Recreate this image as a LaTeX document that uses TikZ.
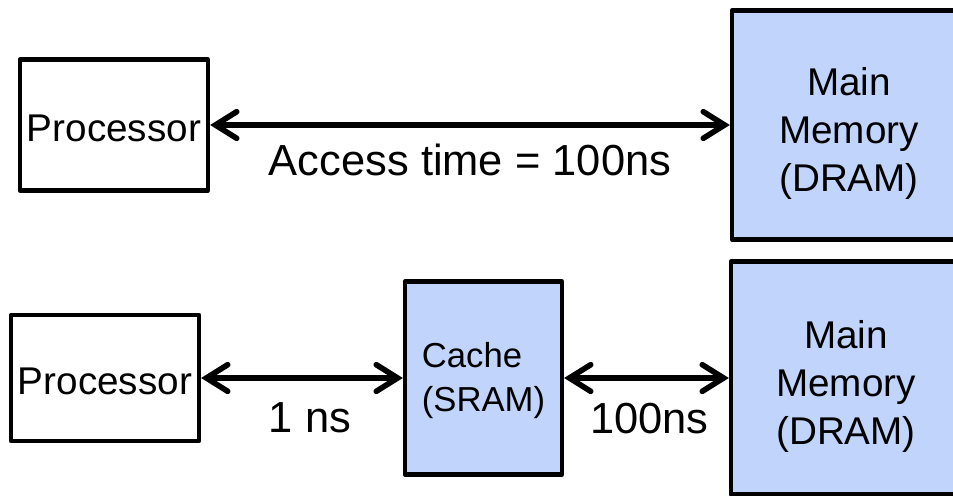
\documentclass[tikz,border=0pt]{standalone}
\usepackage{fontspec}
\setmainfont{Liberation Sans}
\usetikzlibrary{arrows.meta}

\definecolor{memblue}{RGB}{193,212,252}

\begin{document}
\begin{tikzpicture}[
    x = 0.75pt, y = -0.75pt,
    line join=round,
    plainbox/.style = {draw, line width=3.2pt, inner sep=0pt, align=center, font=\fontsize{29}{36}\selectfont},
    membox/.style = {plainbox, fill=memblue},
    link/.style = {line width=4.2pt, line cap=round, {Straight Barb[length=16pt, width=20pt, line cap=round]}-{Straight Barb[length=16pt, width=20pt, line cap=round]}},
    lbl/.style = {anchor=base, inner sep=0pt, font=\fontsize{32.6}{38}\selectfont}
]

\useasboundingbox (0, 0) rectangle (953, 496);
\clip (0, 0) rectangle (953, 496);

% without cache
\node[plainbox, minimum width=141pt, minimum height=98.25pt, text height=25pt] (proc1) at (114, 125) {Processor};
\node[membox, minimum width=175.5pt, minimum height=171.75pt, text height=106pt] (mem1) at (849, 125) {Main\\Memory\\(DRAM)};

\draw[link] (proc1) -- (mem1);
\node[lbl] (acc) at (470, 175) {Access time = 100ns};

% with cache
\node[plainbox, minimum width=141pt, minimum height=94.5pt, text height=25pt] (proc2) at (105, 378) {Processor};
\node[membox, minimum width=117.75pt, minimum height=144.75pt, text height=56pt, align=left, font=\fontsize{26}{33}\selectfont] (cache) at (483.5, 378) {Cache\\(SRAM)};
\node[membox, minimum width=172.5pt, minimum height=174.75pt, text height=105pt] (mem2) at (846, 378) {Main\\Memory\\(DRAM)};

\draw[link] (proc2) -- (cache);
\draw[link] (cache) -- (mem2);

\node[lbl] (fast) at (310, 432) {1 ns};
\node[lbl] (slow) at (649.5, 433) {100ns};

\end{tikzpicture}
\end{document}
